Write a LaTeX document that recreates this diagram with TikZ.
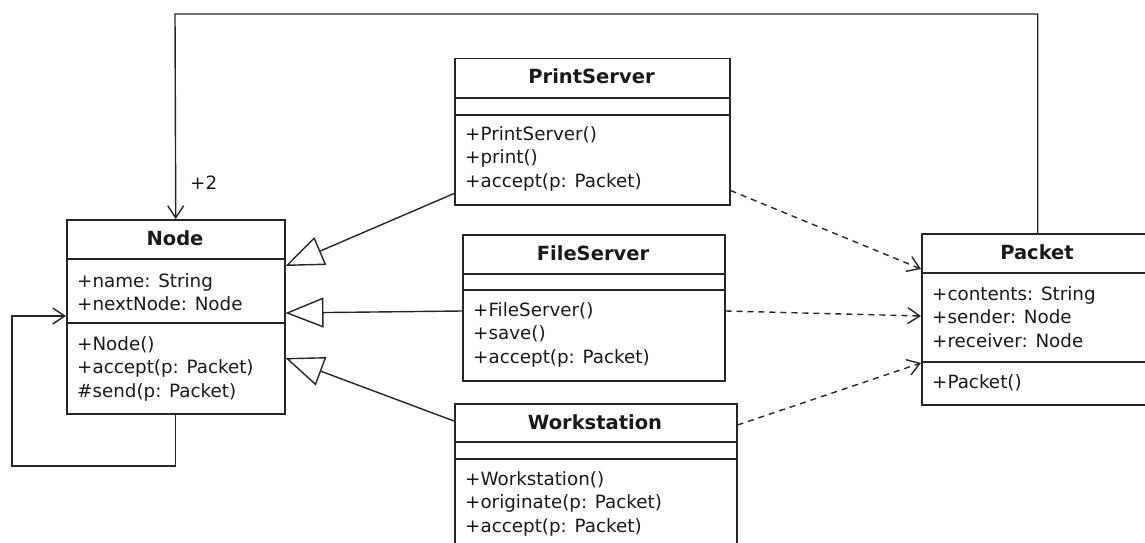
\documentclass[tikz,border=0pt]{standalone}
\usepackage{fontspec}
\setmainfont{DejaVu Sans}
\usetikzlibrary{arrows.meta}
\begin{document}
\begin{tikzpicture}[x=1pt,y=-1pt,
  box/.style={draw=black!85, line width=1.5pt, rectangle, inner sep=0pt, anchor=north west},
  sep/.style={draw=black!85, line width=1.5pt},
  txt/.style={anchor=base west, inner sep=0pt, text=black!90, font=\fontsize{18.3}{22}\selectfont},
  ttl/.style={anchor=base, inner sep=0pt, text=black!90, font=\fontsize{19.5}{22}\selectfont\bfseries},
  gen/.style={draw=black!85, line width=1.4pt, -{Triangle[open,length=38pt,width=30pt]}},
  dep/.style={draw=black!85, line width=1.4pt, dash pattern=on 6pt off 5pt, -{Straight Barb[length=12pt,width=16pt]}},
  assoc/.style={draw=black!85, line width=1.4pt, -{Straight Barb[length=12pt,width=16pt]}}
]
\useasboundingbox (0,0) rectangle (1145,543);
\clip (0,0) rectangle (1145,543);

% ---------- Node ----------
\node[box, minimum width=218pt, minimum height=194pt] (nd) at (66,219) {};
\draw[sep] ([yshift=-40pt]nd.north west) -- ([yshift=-40pt]nd.north east);
\draw[sep] ([yshift=-104pt]nd.north west) -- ([yshift=-104pt]nd.north east);
\node[ttl] (ndT) at (175,245) {Node};
\node[txt] (ndA1) at (77,287) {+name: String};
\node[txt] (ndA2) at (77,310.5) {+nextNode: Node};
\node[txt] (ndM1) at (77,350) {+Node()};
\node[txt] (ndM2) at (77,373.5) {+accept(p: Packet)};
\node[txt] (ndM3) at (77,397) {\#send(p: Packet)};

% ---------- PrintServer ----------
\node[box, minimum width=275pt, minimum height=146pt] (ps) at (454,58) {};
\draw[sep] ([yshift=-40pt]ps.north west) -- ([yshift=-40pt]ps.north east);
\draw[sep] ([yshift=-57pt]ps.north west) -- ([yshift=-57pt]ps.north east);
\node[ttl] (psT) at (591.5,84) {PrintServer};
\node[txt] (psM1) at (465,140) {+PrintServer()};
\node[txt] (psM2) at (465,163.5) {+print()};
\node[txt] (psM3) at (465,187) {+accept(p: Packet)};

% ---------- FileServer ----------
\node[box, minimum width=262pt, minimum height=146pt] (fs) at (462,234) {};
\draw[sep] ([yshift=-40pt]fs.north west) -- ([yshift=-40pt]fs.north east);
\draw[sep] ([yshift=-56pt]fs.north west) -- ([yshift=-56pt]fs.north east);
\node[ttl] (fsT) at (593,260) {FileServer};
\node[txt] (fsM1) at (473,316) {+FileServer()};
\node[txt] (fsM2) at (473,339.5) {+save()};
\node[txt] (fsM3) at (473,363) {+accept(p: Packet)};

% ---------- Workstation ----------
\node[box, minimum width=282pt, minimum height=146pt] (ws) at (454,403) {};
\draw[sep] ([yshift=-39pt]ws.north west) -- ([yshift=-39pt]ws.north east);
\draw[sep] ([yshift=-56pt]ws.north west) -- ([yshift=-56pt]ws.north east);
\node[ttl] (wsT) at (595,429) {Workstation};
\node[txt] (wsM1) at (465,485) {+Workstation()};
\node[txt] (wsM2) at (465,508.5) {+originate(p: Packet)};
\node[txt] (wsM3) at (465,532) {+accept(p: Packet)};

% ---------- Packet ----------
\node[box, minimum width=232pt, minimum height=171pt] (pk) at (921,233) {};
\draw[sep] ([yshift=-40pt]pk.north west) -- ([yshift=-40pt]pk.north east);
\draw[sep] ([yshift=-129pt]pk.north west) -- ([yshift=-129pt]pk.north east);
\node[ttl] (pkT) at (1037,259) {Packet};
\node[txt] (pkA1) at (932,300) {+contents: String};
\node[txt] (pkA2) at (932,323.5) {+sender: Node};
\node[txt] (pkA3) at (932,347) {+receiver: Node};
\node[txt] (pkM1) at (932,388) {+Packet()};

% ---------- generalizations ----------
\draw[gen] ([yshift=12pt]ps.south west) -- ([yshift=-47pt]nd.north east);
\draw[gen] ([yshift=-77pt]fs.north west) -- ([yshift=-94pt]nd.north east);
\draw[gen] ([yshift=-18pt]ws.north west) -- ([yshift=-139pt]nd.north east);

% ---------- dependencies ----------
\draw[dep] ([yshift=15pt]ps.south east) -- ([yshift=-36pt]pk.north west);
\draw[dep] ([yshift=-77pt]fs.north east) -- ([yshift=-83pt]pk.north west);
\draw[dep] ([yshift=-22pt]ws.north east) -- ([yshift=-130pt]pk.north west);

% ---------- associations ----------
\coordinate (topL) at (175,14);
\draw[assoc] (pk.north) |- (topL) -- (nd.north);
\node[txt] (mult) at (190,189) {+2};
\coordinate (loopC) at (12,466);
\draw[assoc] (nd.south) |- (loopC) |- ([yshift=-97pt]nd.north west);
\end{tikzpicture}
\end{document}
